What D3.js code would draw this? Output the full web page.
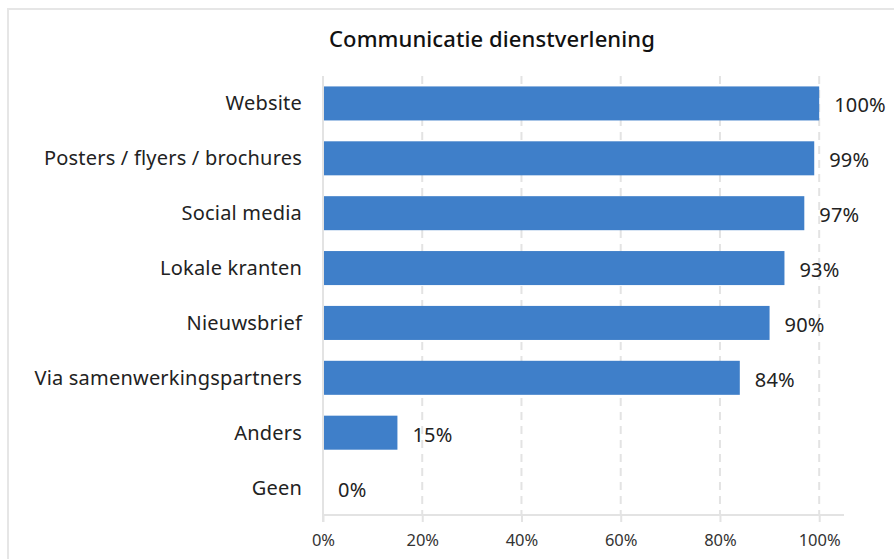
<!DOCTYPE html>
<html>
<head>
<meta charset="utf-8">
<script src="https://cdn.jsdelivr.net/npm/d3@7"></script>
<style>
  body { margin: 0; background: #fff; }
  text { font-family: "Noto Sans", "DejaVu Sans", sans-serif; }
</style>
</head>
<body>
<div id="chart"></div>
<script>
var categories = ['Website', 'Posters / flyers / brochures', 'Social media', 'Lokale kranten',
    'Nieuwsbrief', 'Via samenwerkingspartners', 'Anders', 'Geen'];
var values = [100, 99, 97, 93, 90, 84, 15, 0];
var ticks = [0, 20, 40, 60, 80, 100];

var width = 894, height = 559;
var margin = { top: 76, left: 323, right: 50, bottom: 44 };

var svg = d3.select('#chart').append('svg')
    .attr('width', width)
    .attr('height', height);

// card frame
svg.append('path')
    .attr('d', 'M8,' + height + 'V9H' + width)
    .attr('fill', 'none')
    .attr('stroke', '#e6e6e6')
    .attr('stroke-width', 2);

svg.append('text')
    .attr('x', 492)
    .attr('y', 47)
    .attr('text-anchor', 'middle')
    .attr('font-size', 22)
    .attr('font-weight', 500)
    .attr('letter-spacing', 0.1)
    .attr('fill', '#111')
    .text('Communicatie dienstverlening');

var x = d3.scaleLinear().domain([0, 105]).range([margin.left, 844]);
var y = d3.scaleBand().domain(categories)
    .range([margin.top, 515])
    .paddingInner(0.38)
    .paddingOuter(0.19);

// grid
svg.append('g').selectAll('line')
    .data(ticks.slice(1))
    .join('line')
    .attr('x1', function(d) { return x(d); })
    .attr('x2', function(d) { return x(d); })
    .attr('y1', margin.top)
    .attr('y2', 515)
    .attr('stroke', '#e3e3e3')
    .attr('stroke-width', 2)
    .attr('stroke-dasharray', '8,6');

var xAxis = svg.append('g')
    .attr('transform', 'translate(0,515)')
    .call(d3.axisBottom(x).tickValues(ticks).tickSize(7).tickPadding(12)
        .tickFormat(function(d) { return d + '%'; }));
xAxis.select('.domain').attr('stroke', '#e3e3e3').attr('stroke-width', 2)
    .attr('d', 'M' + x(0) + ',0H844');
xAxis.selectAll('.tick line').attr('stroke', '#e3e3e3').attr('stroke-width', 2);
xAxis.selectAll('text').attr('font-size', 16.5).attr('fill', '#333')
    .style('font-family', '"Noto Sans", "DejaVu Sans", sans-serif');

// y axis line
svg.append('line')
    .attr('x1', x(0)).attr('x2', x(0))
    .attr('y1', margin.top).attr('y2', 522)
    .attr('stroke', '#e3e3e3')
    .attr('stroke-width', 2);

svg.append('g').selectAll('rect')
    .data(values)
    .join('rect')
    .attr('x', x(0) + 1)
    .attr('y', function(d, i) { return y(categories[i]); })
    .attr('width', function(d) { return Math.max(0, x(d) - x(0) - 1); })
    .attr('height', y.bandwidth())
    .attr('fill', '#3f7fc9');

svg.append('g').selectAll('text')
    .data(categories)
    .join('text')
    .attr('x', 302)
    .attr('y', function(d) { return y(d) + y.bandwidth() / 2; })
    .attr('dy', '0.35em')
    .attr('text-anchor', 'end')
    .attr('font-size', 20)
    .attr('letter-spacing', 0.2)
    .attr('fill', '#222')
    .text(function(d) { return d; });

svg.append('g').selectAll('text')
    .data(values)
    .join('text')
    .attr('x', function(d) { return x(d) + 15; })
    .attr('y', function(d, i) { return y(categories[i]) + y.bandwidth() / 2 + 2; })
    .attr('dy', '0.35em')
    .attr('font-size', 20)
    .attr('letter-spacing', 0.2)
    .attr('fill', '#222')
    .text(function(d) { return d + '%'; });
</script>
</body>
</html>
